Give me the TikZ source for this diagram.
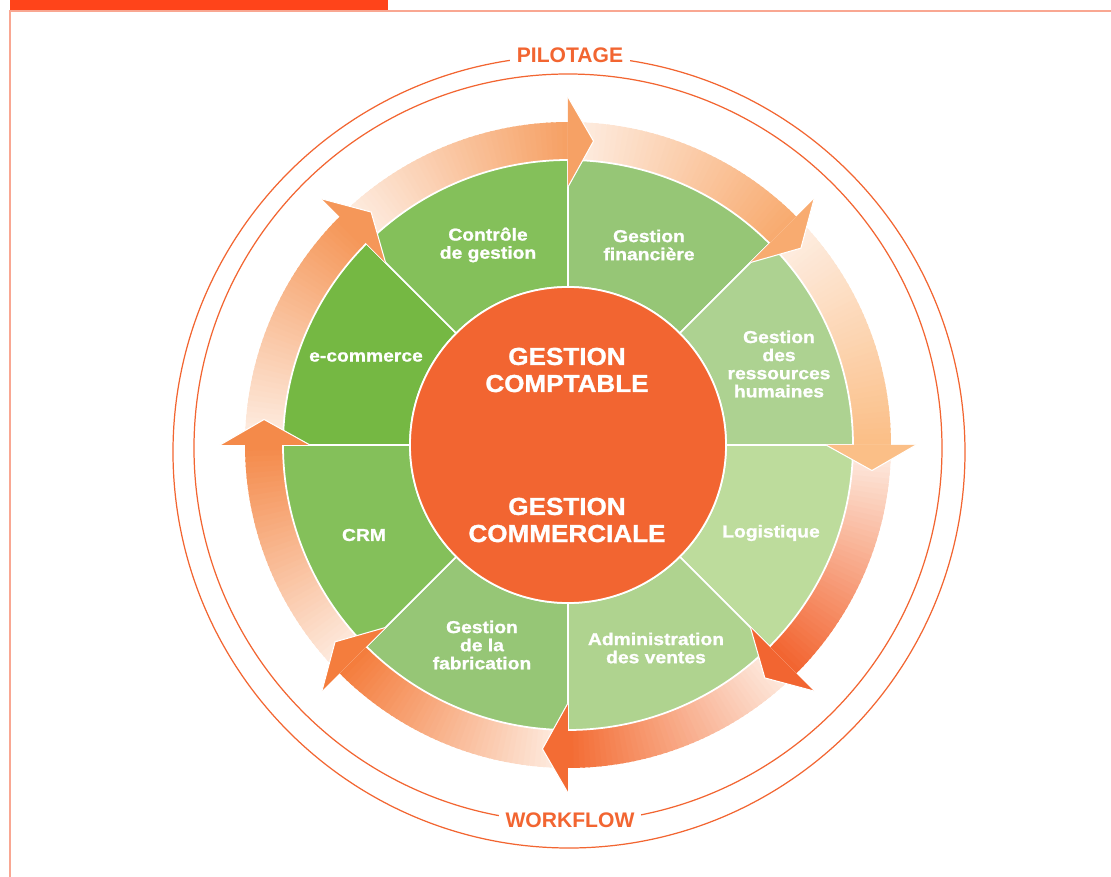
\documentclass[tikz,border=0pt]{standalone}
\usepackage{fontspec}
\setmainfont{Liberation Sans}
\newfontfamily\modulefont{Liberation Sans}[BoldFeatures={FakeBold=1.2}, FakeStretch=1.12]
\newfontfamily\corefont{Liberation Sans}[BoldFeatures={FakeBold=1.2}, FakeStretch=1.06]
\usetikzlibrary{positioning}

\definecolor{wheelorange}{HTML}{F26531}
\definecolor{barred}{HTML}{FF441A}
\definecolor{framepink}{HTML}{F9A792}
\definecolor{arrowtail}{HTML}{FEEFE5}
\definecolor{headA}{HTML}{F6A165}
\definecolor{headB}{HTML}{F8AB70}
\definecolor{headC}{HTML}{FBBF87}
\definecolor{headD}{HTML}{F26531}
\definecolor{headE}{HTML}{F36C34}
\definecolor{headF}{HTML}{F47D3D}
\definecolor{headG}{HTML}{F48A4A}
\definecolor{headH}{HTML}{F59759}
\definecolor{greenFin}{HTML}{96C676}
\definecolor{greenRH}{HTML}{ADD291}
\definecolor{greenLog}{HTML}{BDDC9C}
\definecolor{greenVen}{HTML}{AFD38F}
\definecolor{greenFab}{HTML}{96C676}
\definecolor{greenCRM}{HTML}{84C05A}
\definecolor{greenEcom}{HTML}{75B843}
\definecolor{greenCtrl}{HTML}{84C05A}

\begin{document}
\begin{tikzpicture}[
    x=0.2mm, y=0.2mm,
    sector/.style={draw=white, line width=1pt},
    ring/.style={draw=wheelorange, line width=0.7pt},
    arrowedge/.style={draw=white, line width=0.6pt},
    hub/.style={circle, fill=wheelorange, draw=white, line width=1pt, minimum size=63.2mm},
    module/.style={text=white, font=\modulefont\bfseries\fontsize{9.8}{10.3}\selectfont, align=center},
    core/.style={text=white, font=\corefont\bfseries\fontsize{14}{15.4}\selectfont, align=center},
    ringtitle/.style={text=wheelorange, fill=white, font=\bfseries\fontsize{12}{12}\selectfont, inner xsep=4pt, inner ysep=1pt}
    ]
    \useasboundingbox (-568,-432) rectangle (543,445);

    % Page frame
    \fill[barred] (-558,445) rectangle (-180,435);
    \draw[framepink, line width=0.6pt] (-558,-432) -- (-558,434) -- (543,434);

    % Outer rings
    \draw[ring] (0,-3) circle[radius=374];
    \draw[ring] (1,-7) circle[radius=396];
    \node[ringtitle] (pilotage) at (2,390) {PILOTAGE};
    \node[ringtitle] (workflow) at (2,-375) {WORKFLOW};

    % Gradient arrow bands
    \foreach \s/\hc in {135/headA, 90/headB, 45/headC, 0/headD, -45/headE, -90/headF, -135/headG, 180/headH}
      \foreach \k in {0,...,44}{
        \pgfmathsetmacro\p{100*\k/44}
        \pgfmathsetmacro\a{\s-\k}
        \pgfmathsetmacro\b{\s-\k-1.4}
        \fill[\hc!\p!arrowtail] (\a:285) -- (\a:323) -- (\b:323) -- (\b:285) -- cycle;
      }

    % Module sectors
    \foreach \s/\gc in {90/greenFin, 45/greenRH, 0/greenLog, -45/greenVen, -90/greenFab, -135/greenCRM, 180/greenEcom, 135/greenCtrl}{
      \pgfmathsetmacro\e{\s-45}
      \filldraw[sector, fill=\gc] (\s:158) -- (\s:285) arc[start angle=\s, end angle=\e, radius=285] -- (\e:158) arc[start angle=\e, end angle=\s, radius=158] -- cycle;
    }

    % Arrow heads
    \foreach \s/\hc in {135/headA, 90/headB, 45/headC, 0/headD, -45/headE, -90/headF, -135/headG, 180/headH}{
      \pgfmathsetmacro\e{\s-45}
      \pgfmathsetmacro\t{\s-49.8}
      \fill[\hc] (\e:258) -- (\t:305) -- (\e:348) -- cycle;
      \draw[arrowedge] (\e:258) -- (\t:305) -- (\e:348);
    }

    % Centre
    \node[hub] (hub) at (0,0) {};
    \node[core] (comptable) at (-1,75) {GESTION\\COMPTABLE};
    \node[core] (commerciale) at (-1,-75) {GESTION\\COMMERCIALE};

    % Module labels
    \node[module] (controle) at (-80,200) {Contrôle\\de gestion};
    \node[module] (financiere) at (81,200) {Gestion\\financière};
    \node[module] (rh) at (211,81) {Gestion\\des\\ressources\\humaines};
    \node[module] (logistique) at (203,-88) {Logistique};
    \node[module] (ventes) at (88,-203) {Administration\\des ventes};
    \node[module] (fabrication) at (-86,-200) {Gestion\\de la\\fabrication};
    \node[module] (crm) at (-204,-90) {CRM};
    \node[module] (ecommerce) at (-202,88) {e-commerce};
\end{tikzpicture}
\end{document}
